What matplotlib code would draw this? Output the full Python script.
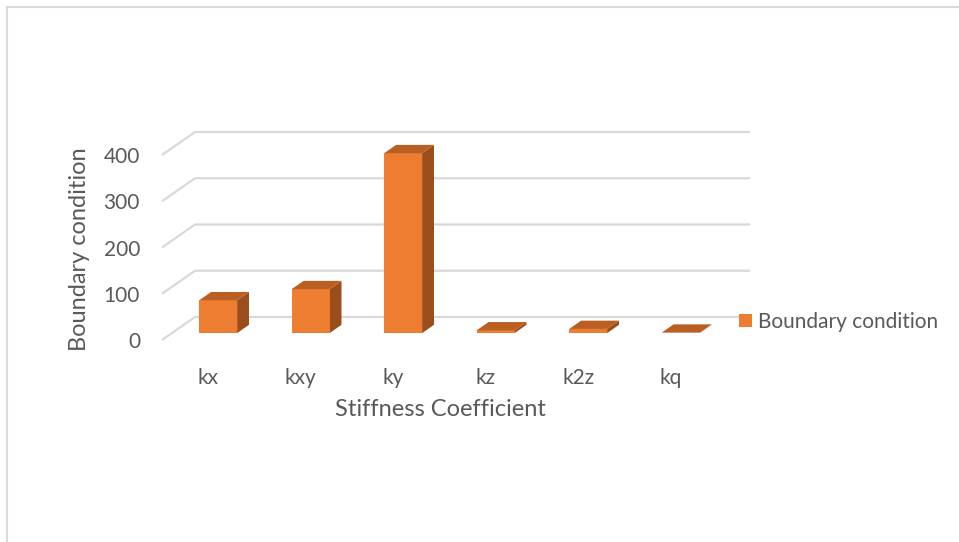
import matplotlib
matplotlib.use("Agg")
import matplotlib.pyplot as plt
from matplotlib.patches import Polygon, Rectangle, Patch
from matplotlib.lines import Line2D

# ── Data ──────────────────────────────────────────────────────────────────────
categories = ["kx", "kxy", "ky", "kz", "k2z", "kq"]
values = [71, 95, 389, 6, 9, 1]
y_ticks = [0, 100, 200, 300, 400]
series_name = "Boundary condition"

# ── Style ─────────────────────────────────────────────────────────────────────
FRONT = "#ED7D31"
TOP = "#B95F22"
SIDE = "#9B4E1C"
GRID = "#D9D9D9"
TXT = "#595959"
plt.rcParams["font.family"] = ["Lato", "DejaVu Sans"]
FS_TICK = 15
FS_TITLE = 17

W, H = 959, 542
# pixel geometry of the pseudo-3D box (floor front-left corner, scales, depth)
PX0, PY0 = 162, 340          # px of (x=0, y=0) at front
SX, SY = 92.5, 0.4625        # px per category / per value unit
DX, DY = 33 / SX, 23 / SY    # full depth offset in data units
BAR_W = 0.41
D0, DD = 0.30, 0.36          # bar depth start / bar depth

fig = plt.figure(figsize=(W / 100, H / 100), dpi=100)
ax = fig.add_axes([0, 0, 1, 1])
ax.set_xlim(-PX0 / SX, (W - PX0) / SX)
ax.set_ylim((PY0 - H) / SY, PY0 / SY)
ax.axis("off")

def px2data(px, py):
    return (px - PX0) / SX, (PY0 - py) / SY

# outer chart border (top and left edges only visible)
fig.add_artist(Line2D([7 / W, 1], [1 - 7 / H, 1 - 7 / H], color=GRID, lw=1.5))
fig.add_artist(Line2D([7 / W, 7 / W], [0, 1 - 7 / H], color=GRID, lw=1.5))

n = len(categories)
# gridlines: side wall diagonal + back wall horizontal
for v in y_ticks:
    ax.plot([0, DX, n + DX], [v, v + DY, v + DY], color=GRID, lw=1.6,
            solid_capstyle="butt", zorder=1)

# bars
for i, h in enumerate(values):
    x0 = i + 0.5 - BAR_W / 2 + D0 * DX
    y0 = D0 * DY
    ddx, ddy = DD * DX, DD * DY
    side = [(x0 + BAR_W, y0), (x0 + BAR_W + ddx, y0 + ddy),
            (x0 + BAR_W + ddx, y0 + h + ddy), (x0 + BAR_W, y0 + h)]
    top = [(x0, y0 + h), (x0 + BAR_W, y0 + h),
           (x0 + BAR_W + ddx, y0 + h + ddy), (x0 + ddx, y0 + h + ddy)]
    ax.add_patch(Polygon(side, closed=True, fc=SIDE, ec="none", zorder=3))
    ax.add_patch(Rectangle((x0, y0), BAR_W, h, fc=FRONT, ec="none", zorder=3))
    ax.add_patch(Polygon(top, closed=True, fc=TOP, ec="none", zorder=4))

# y tick labels
tx, _ = px2data(140, 0)
for v in y_ticks:
    ax.text(tx, v - 2 / SY, f"{v}", ha="right", va="center",
            fontsize=FS_TICK, color=TXT)

# category labels
_, cy = px2data(0, 378)
for i, c in enumerate(categories):
    ax.text(i + 0.5, cy, c, ha="center", va="center", fontsize=FS_TICK,
            color=TXT)

# axis titles
fig.text(440 / W, 1 - 410 / H, "Stiffness Coefficient", ha="center",
         va="center", fontsize=FS_TITLE, color=TXT)
fig.text(80 / W, 1 - 249 / H, "Boundary condition", ha="center",
         va="center", rotation=90, fontsize=FS_TITLE, color=TXT)

# legend
leg = fig.legend(handles=[Patch(fc=FRONT, ec="none", label=series_name)],
                 loc="center left", bbox_to_anchor=(739 / W, 1 - 322 / H),
                 frameon=False, fontsize=FS_TICK, handlelength=0.62,
                 handleheight=0.62, handletextpad=0.3, borderpad=0,
                 borderaxespad=0)
for t in leg.get_texts():
    t.set_color(TXT)

fig.savefig("out.png", dpi=100)
